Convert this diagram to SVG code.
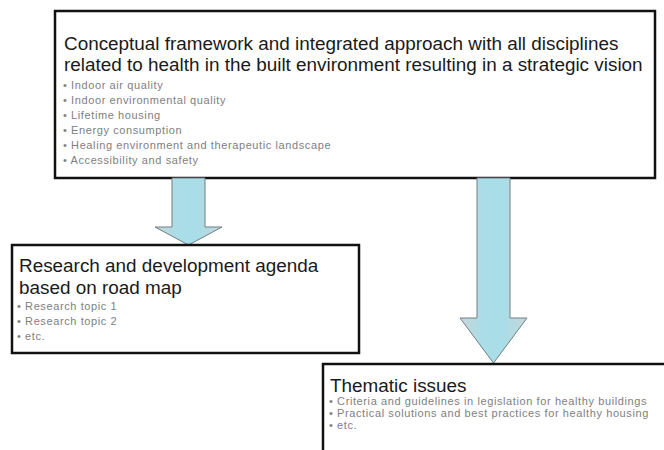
<svg xmlns="http://www.w3.org/2000/svg" width="664" height="450" viewBox="0 0 664 450">
<style>
.box{fill:#fff;stroke:#111;stroke-width:2.5}
.title{font-family:"Liberation Sans",Arial,sans-serif;font-size:18.9px;fill:#1a1a1a}
.item{font-family:"Liberation Sans",Arial,sans-serif;font-size:11px;letter-spacing:0.6px;fill:#808080}
.arrow{fill:url(#ag);stroke:#6f7f84;stroke-width:1}
</style>
<defs>
<linearGradient id="ag" x1="0" y1="0" x2="1" y2="0">
<stop offset="0" stop-color="#c8d6da"/>
<stop offset="0.35" stop-color="#a9dde7"/>
<stop offset="0.65" stop-color="#a9dde7"/>
<stop offset="1" stop-color="#c8d6da"/>
</linearGradient>
</defs>
<rect width="664" height="450" fill="#fff"/>
<g id="framework">
<rect class="box" x="55" y="11" width="600" height="167"/>
<text class="title" x="64" y="50">Conceptual framework and integrated approach with all disciplines</text>
<text class="title" x="64" y="71">related to health in the built environment resulting in a strategic vision</text>
<text class="item" x="63" y="89">• Indoor air quality</text>
<text class="item" x="63" y="104">• Indoor environmental quality</text>
<text class="item" x="63" y="119">• Lifetime housing</text>
<text class="item" x="63" y="134">• Energy consumption</text>
<text class="item" x="63" y="149">• Healing environment and therapeutic landscape</text>
<text class="item" x="63" y="164">• Accessibility and safety</text>
</g>
<g id="connectors">
<path class="arrow" d="M172,178 H205 V227 H222 L188.5,245 L155,227 H172 Z"/>
<path class="arrow" d="M477,178 H510 V318 H527 L493.5,363 L460,318 H477 Z"/>
</g>
<g id="research">
<rect class="box" x="12" y="245" width="347" height="108"/>
<text class="title" x="19" y="272">Research and development agenda</text>
<text class="title" x="19" y="294">based on road map</text>
<text class="item" x="17" y="310">• Research topic 1</text>
<text class="item" x="17" y="325">• Research topic 2</text>
<text class="item" x="17" y="340">• etc.</text>
</g>
<g id="thematic">
<rect class="box" x="323" y="364" width="360" height="100"/>
<text class="title" x="330" y="392">Thematic issues</text>
<text class="item" x="329" y="405">• Criteria and guidelines in legislation for healthy buildings</text>
<text class="item" x="329" y="417">• Practical solutions and best practices for healthy housing</text>
<text class="item" x="329" y="429">• etc.</text>
</g>
</svg>
